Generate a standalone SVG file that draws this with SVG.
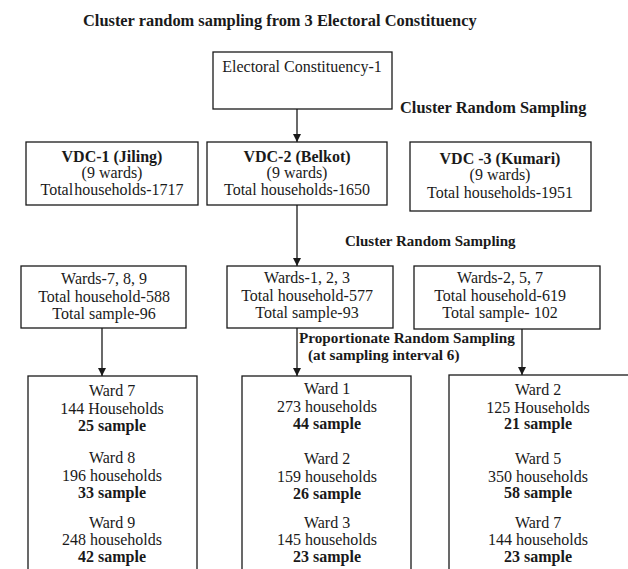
<svg xmlns="http://www.w3.org/2000/svg" width="628" height="569" viewBox="0 0 628 569">
<defs>
<marker id="ah" markerUnits="userSpaceOnUse" markerWidth="8" markerHeight="9" refX="8" refY="4" orient="auto">
<path d="M0,0 L8,4 L0,8 Z" fill="#1a1a1a"/>
</marker>
<style>
.bx{fill:#fff;stroke:#1a1a1a;stroke-width:1.3}
.t{font-family:"Liberation Serif","Times New Roman",serif;font-size:16px;fill:#1a1a1a;text-anchor:middle}
.b{font-weight:bold}
.lb{font-family:"Liberation Serif","Times New Roman",serif;font-weight:bold;fill:#1a1a1a}
.cn{stroke:#1a1a1a;stroke-width:1.3;fill:none;marker-end:url(#ah)}
</style>
</defs>
<rect width="628" height="569" fill="#fff"/>

<text class="lb" x="83" y="26" font-size="16.4">Cluster random sampling from 3 Electoral Constituency</text>
<text class="lb" x="400" y="113" font-size="16.4">Cluster Random Sampling</text>
<text class="lb" x="345" y="246" font-size="15">Cluster Random Sampling</text>
<text class="lb" x="299" y="343" font-size="15.2">Proportionate Random Sampling</text>
<text class="lb" x="308" y="360" font-size="15.2">(at sampling interval 6)</text>

<g id="connectors">
<line class="cn" x1="297" y1="109" x2="297" y2="142"/>
<line class="cn" x1="297" y1="205" x2="297" y2="266"/>
<line class="cn" x1="102" y1="328" x2="102" y2="376"/>
<line class="cn" x1="297" y1="328" x2="297" y2="376"/>
<line class="cn" x1="522" y1="329" x2="522" y2="375"/>
</g>

<g id="ec1">
<rect class="bx" x="213" y="52" width="179" height="57"/>
<text class="t" x="302" y="72">Electoral Constituency-1</text>
</g>

<g id="vdc1">
<rect class="bx" x="26" y="142" width="172" height="63"/>
<text class="t b" x="112" y="162">VDC-1 (Jiling)</text>
<text class="t" x="112" y="178">(9 wards)</text>
<text class="t" x="112" y="195" word-spacing="-3">Total households-1717</text>
</g>

<g id="vdc2">
<rect class="bx" x="207" y="142" width="180" height="63"/>
<text class="t b" x="297" y="162">VDC-2 (Belkot)</text>
<text class="t" x="297" y="178">(9 wards)</text>
<text class="t" x="297" y="195">Total households-1650</text>
</g>

<g id="vdc3">
<rect class="bx" x="410" y="142" width="181" height="69"/>
<text class="t b" x="500" y="164">VDC -3 (Kumari)</text>
<text class="t" x="500" y="180">(9 wards)</text>
<text class="t" x="500" y="198">Total households-1951</text>
</g>

<g id="wardsA">
<rect class="bx" x="21" y="266" width="165" height="62"/>
<text class="t" x="104" y="284">Wards-7, 8, 9</text>
<text class="t" x="104" y="302">Total household-588</text>
<text class="t" x="104" y="319">Total sample-96</text>
</g>

<g id="wardsB">
<rect class="bx" x="227" y="266" width="166" height="62"/>
<text class="t" x="307" y="283">Wards-1, 2, 3</text>
<text class="t" x="307" y="301">Total household-577</text>
<text class="t" x="307" y="318">Total sample-93</text>
</g>

<g id="wardsC">
<rect class="bx" x="414" y="266" width="186" height="63"/>
<text class="t" x="500" y="283">Wards-2, 5, 7</text>
<text class="t" x="500" y="301">Total household-619</text>
<text class="t" x="500" y="318">Total sample- 102</text>
</g>

<g id="detailA">
<rect class="bx" x="28" y="376" width="169" height="200"/>
<text class="t" x="112" y="396">Ward 7</text>
<text class="t" x="112" y="414">144 Households</text>
<text class="t b" x="112" y="431">25 sample</text>
<text class="t" x="112" y="463">Ward 8</text>
<text class="t" x="112" y="481">196 households</text>
<text class="t b" x="112" y="498">33 sample</text>
<text class="t" x="112" y="528">Ward 9</text>
<text class="t" x="112" y="545">248 households</text>
<text class="t b" x="112" y="562">42 sample</text>
</g>

<g id="detailB">
<rect class="bx" x="242" y="376" width="169" height="200"/>
<text class="t" x="327" y="394">Ward 1</text>
<text class="t" x="327" y="412">273 households</text>
<text class="t b" x="327" y="429">44 sample</text>
<text class="t" x="327" y="464">Ward 2</text>
<text class="t" x="327" y="482">159 households</text>
<text class="t b" x="327" y="499">26 sample</text>
<text class="t" x="327" y="528">Ward 3</text>
<text class="t" x="327" y="545">145 households</text>
<text class="t b" x="327" y="562">23 sample</text>
</g>

<g id="detailC">
<rect class="bx" x="449" y="375" width="200" height="200"/>
<text class="t" x="538" y="395">Ward 2</text>
<text class="t" x="538" y="413">125 Households</text>
<text class="t b" x="538" y="429">21 sample</text>
<text class="t" x="538" y="464">Ward 5</text>
<text class="t" x="538" y="482">350 households</text>
<text class="t b" x="538" y="498">58 sample</text>
<text class="t" x="538" y="528">Ward 7</text>
<text class="t" x="538" y="545">144 households</text>
<text class="t b" x="538" y="562">23 sample</text>
</g>
</svg>
